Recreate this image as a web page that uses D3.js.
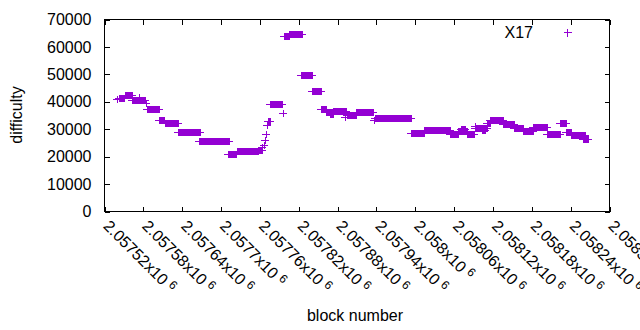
<!DOCTYPE html>
<html>
<head>
<meta charset="utf-8">
<script src="https://cdn.jsdelivr.net/npm/d3@7"></script>
<style>
  body { margin: 0; background: #fff; }
  text { font-family: "Liberation Sans", Arial, sans-serif; }
</style>
</head>
<body>
<div id="chart"></div>
<script>
// runs of X17 blocks sharing (roughly) the same difficulty: first block, last block, difficulty
const runStart = [2057540, 2057543, 2057552, 2057563, 2057573, 2057574, 2057584, 2057586, 2057604, 2057614,
  2057634, 2057666, 2057711, 2057725, 2057748, 2057757, 2057764, 2057767, 2057768, 2057770,
  2057771, 2057773, 2057776, 2057795, 2057798, 2057805, 2057824, 2057841, 2057855, 2057856,
  2057862, 2057869, 2057873, 2057892, 2057895, 2057909, 2057937, 2057938, 2057994, 2058014,
  2058054, 2058066, 2058071, 2058080, 2058092, 2058093, 2058103, 2058111, 2058116, 2058136,
  2058153, 2058167, 2058182, 2058204, 2058224, 2058233, 2058241, 2058259];
const runEnd = [2057540, 2057550, 2057562, 2057572, 2057573, 2057583, 2057584, 2057604, 2057612, 2057634,
  2057668, 2057713, 2057723, 2057748, 2057757, 2057764, 2057764, 2057767, 2057768, 2057770,
  2057771, 2057776, 2057794, 2057795, 2057805, 2057825, 2057841, 2057855, 2057855, 2057862,
  2057873, 2057873, 2057893, 2057892, 2057909, 2057935, 2057937, 2057994, 2058014, 2058054,
  2058066, 2058080, 2058077, 2058091, 2058092, 2058111, 2058108, 2058116, 2058136, 2058153,
  2058167, 2058182, 2058204, 2058224, 2058233, 2058241, 2058262, 2058267];
const runDifficulty = [41100, 41200, 42500, 40800, 41600, 40650, 39400, 37200, 33200, 32100,
  29050, 25700, 20800, 21900, 22200, 22600, 23500, 24400, 25900, 28100,
  31700, 33000, 39200, 36000, 64000, 64800, 49600, 44100, 37400, 37300,
  36450, 35400, 36800, 34400, 35200, 36300, 33500, 34200, 28700, 29800,
  28400, 29200, 29900, 28400, 31000, 30600, 29700, 32100, 33400, 32000,
  30400, 29400, 30700, 28400, 32400, 29000, 27900, 26600];

const xTicks = [2057520, 2057580, 2057640, 2057700, 2057760, 2057820, 2057880,
  2057940, 2058000, 2058060, 2058120, 2058180, 2058240, 2058300];
const yTicks = [0, 10000, 20000, 30000, 40000, 50000, 60000, 70000];
const seriesName = "X17";

const width = 640, height = 330;
const color = "#9400d3";
const fontSize = 16;
const half = 3.5;

const x = d3.scaleLinear().domain([2057520, 2058300]).range([104.5, 609.5]);
const y = d3.scaleLinear().domain([0, 70000]).range([211.5, 19.5]);

const svg = d3.select("#chart").append("svg")
  .attr("width", width)
  .attr("height", height);

// tick marks on all four sides, pointing inward
const tickAxis = (axis, tx, ty) => {
  const g = svg.append("g")
    .attr("transform", `translate(${tx},${ty})`)
    .call(axis);
  g.select(".domain").remove();
  g.selectAll("line").attr("stroke", "#000").attr("shape-rendering", "crispEdges");
  return g;
};

tickAxis(d3.axisBottom(x).tickValues(xTicks).tickSize(-5).tickFormat(""), 0, 211.5);
tickAxis(d3.axisTop(x).tickValues(xTicks).tickSize(-5).tickFormat(""), 0, 19.5);
tickAxis(d3.axisRight(y).tickValues(yTicks).tickSize(-5).tickFormat(""), 609.5, 0);
const yAxis = tickAxis(d3.axisLeft(y).tickValues(yTicks).tickSize(-5).tickPadding(13)
  .tickFormat(d3.format("d")), 104.5, 0);
yAxis.selectAll("text")
  .attr("font-family", "Liberation Sans, Arial, sans-serif")
  .attr("font-size", fontSize)
  .attr("fill", "#000");

svg.append("rect")
  .attr("x", 104.5).attr("y", 19.5)
  .attr("width", 505).attr("height", 192)
  .attr("fill", "none")
  .attr("stroke", "#000")
  .attr("shape-rendering", "crispEdges");

// rotated x tick labels in gnuplot style "2.05752x10^6"
const xLabels = svg.append("g").selectAll("text")
  .data(xTicks)
  .enter()
  .append("text")
  .attr("transform", d => `translate(${x(d) - 2},227) rotate(45)`)
  .attr("font-size", fontSize)
  .attr("fill", "#000");
xLabels.append("tspan").text(d => String(+(d / 1e6).toFixed(5)) + "x10");
xLabels.append("tspan").attr("dx", 4).attr("dy", -5).attr("font-size", 12).text("6");

svg.append("text")
  .attr("transform", "translate(22,115) rotate(-90)")
  .attr("text-anchor", "middle")
  .attr("font-size", fontSize)
  .text("difficulty");

svg.append("text")
  .attr("x", 355).attr("y", 321)
  .attr("text-anchor", "middle")
  .attr("font-size", fontSize)
  .text("block number");

// points: overlapping "+" marks merge into bars
const runs = runStart.map((s, i) => ({ s: s, e: runEnd[i], d: runDifficulty[i] }));

const marks = svg.append("g").attr("shape-rendering", "crispEdges");
marks.selectAll("rect")
  .data(runs)
  .enter()
  .append("rect")
  .attr("x", d => Math.round(x(d.s)) - 0.5)
  .attr("y", d => Math.round(y(d.d)) - half)
  .attr("width", d => Math.max(1, Math.round(x(d.e)) - Math.round(x(d.s)) + 1))
  .attr("height", 2 * half)
  .attr("fill", color);
marks.selectAll("line")
  .data(runs)
  .enter()
  .append("line")
  .attr("x1", d => Math.round(x(d.s)) - half - 0.5)
  .attr("x2", d => Math.round(x(d.e)) + half + 0.5)
  .attr("y1", d => Math.round(y(d.d)) + 0.5)
  .attr("y2", d => Math.round(y(d.d)) + 0.5)
  .attr("stroke", color);

// legend
svg.append("text")
  .attr("x", 533).attr("y", 38)
  .attr("text-anchor", "end")
  .attr("font-size", fontSize)
  .text(seriesName);
const lg = svg.append("g").attr("stroke", color).attr("shape-rendering", "crispEdges");
lg.append("line").attr("x1", 563.5).attr("x2", 571.5).attr("y1", 32.5).attr("y2", 32.5);
lg.append("line").attr("x1", 567.5).attr("x2", 567.5).attr("y1", 28.5).attr("y2", 36.5);
</script>
</body>
</html>
